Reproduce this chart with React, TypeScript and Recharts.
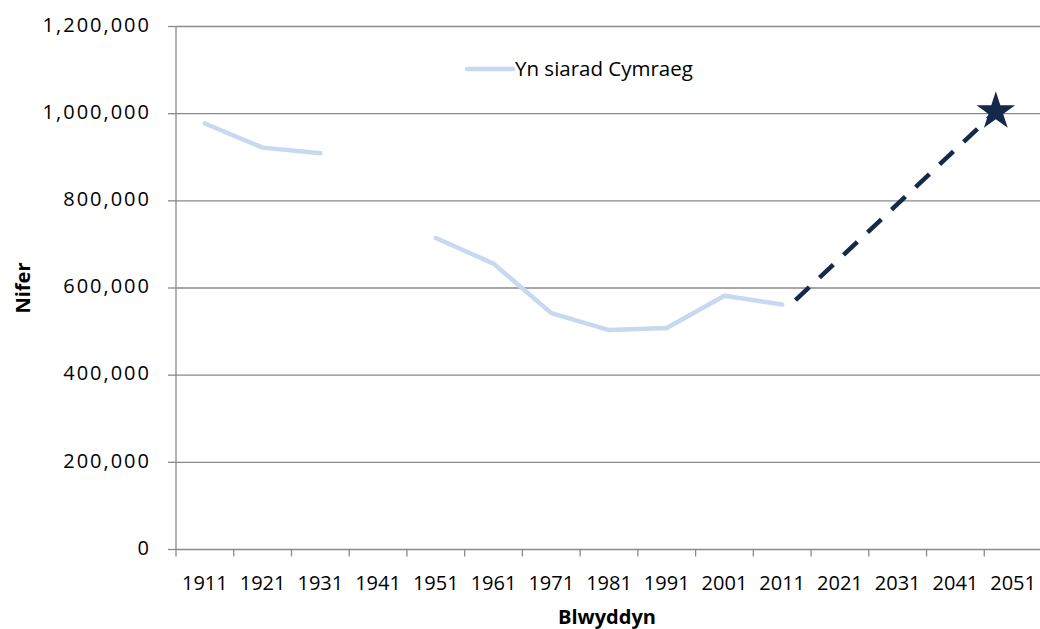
import React from 'react';
import {
  ComposedChart,
  Line,
  Scatter,
  XAxis,
  YAxis,
  Legend,
  Symbols,
  Label,
  ReferenceLine,
} from 'recharts';

// ---- data ----
const yearLabels = [1911, 1921, 1931, 1941, 1951, 1961, 1971, 1981, 1991, 2001, 2011, 2021, 2031, 2041, 2051];
const censusYears = [1911, 1921, 1931, 1941, 1951, 1961, 1971, 1981, 1991, 2001, 2011];
const welshSpeakers: (number | null)[] = [977366, 922092, 909261, null, 714686, 656002, 542425, 503549, 508098, 582368, 562016];
const targetYears = [2013.3, 2048];
const targetValues = [572000, 1005000];
const starYears = [2048];
const starValues = [1005000];
const yTicks = [0, 200000, 400000, 600000, 800000, 1000000, 1200000];
const seriesName = 'Yn siarad Cymraeg';
const xTitle = 'Blwyddyn';
const yTitle = 'Nifer';

// category boundaries (tick marks sit between the year categories)
const xBoundaries = [...yearLabels.map((y) => y - 5), yearLabels[yearLabels.length - 1] + 5];

const censusData = censusYears.map((year, i) => ({ year, speakers: welshSpeakers[i] }));
const targetData = targetYears.map((year, i) => ({ year, target: targetValues[i] }));
const starData = starYears.map((year, i) => ({ year, target: starValues[i] }));

// ---- layout / style ----
const FONT = '"Open Sans", "Noto Sans", sans-serif';
const W = 1040;
const H = 629;
const MARGIN = { top: 26.5, right: -2, bottom: 2, left: 0 };
const Y_AXIS_W = 176;
const X_AXIS_H = 77.5;
const PLOT_W = W - MARGIN.left - MARGIN.right - Y_AXIS_W;
const HALF_BAND = PLOT_W / yearLabels.length / 2;
const GRID = '#8a8a8a';
const LIGHT = '#c6d9f1';
const NAVY = '#15294a';

const XTick = (props: any) => {
  const { x, y, payload } = props;
  const v = payload.value as number;
  if (v >= xBoundaries[xBoundaries.length - 1]) return null;
  return (
    <text x={x + HALF_BAND} y={y} dy="0.71em" textAnchor="middle" fontFamily={FONT} fontSize={20} fill="#000">
      {v + 5}
    </text>
  );
};

const YTick = (props: any) => {
  const { x, y, payload } = props;
  return (
    <text x={x + 2} y={y} dy={5.2} textAnchor="end" fontFamily={FONT} fontSize={20} letterSpacing={2} fill="#000">
      {Number(payload.value).toLocaleString('en-US')}
    </text>
  );
};

const XTitle = (props: any) => {
  const { viewBox } = props;
  return (
    <text x={viewBox.x + viewBox.width / 2 - 2} y={viewBox.y + viewBox.height - 3} textAnchor="middle" fontFamily={FONT} fontWeight="bold" fontSize={20} fill="#000">
      {xTitle}
    </text>
  );
};

const YTitle = (props: any) => {
  const { viewBox } = props;
  const cx = viewBox.x + 30;
  const cy = viewBox.y + viewBox.height / 2;
  return (
    <text x={cx} y={cy} transform={`rotate(-90, ${cx}, ${cy})`} textAnchor="middle" fontFamily={FONT} fontWeight="bold" fontSize={20} fill="#000">
      {yTitle}
    </text>
  );
};

const StarShape = (props: any) => <Symbols cx={props.cx} cy={props.cy} type="star" size={460} fill={NAVY} />;

const LegendContent = () => (
  <svg width={260} height={30} style={{ display: 'block', overflow: 'visible' }}>
    <line x1={1} y1={14} x2={47} y2={14} stroke={LIGHT} strokeWidth={4.5} strokeLinecap="round" />
    <text x={49} y={20.5} fontFamily={FONT} fontSize={20.5} fill="#000">{seriesName}</text>
  </svg>
);

export default function App() {
  return (
    <div style={{ position: 'fixed', left: 0, top: 0, width: 1040, height: 629, overflow: 'hidden', background: '#fff' }}>
      <ComposedChart width={W} height={H} data={censusData} margin={MARGIN}>
        <XAxis
          dataKey="year"
          type="number"
          domain={[xBoundaries[0], xBoundaries[xBoundaries.length - 1]]}
          ticks={xBoundaries}
          interval={0}
          tick={<XTick />}
          tickSize={7}
          tickMargin={19}
          height={X_AXIS_H}
          stroke={GRID}
          tickLine={{ stroke: GRID, strokeWidth: 1.3 }}
          axisLine={false}
        >
          <Label content={<XTitle />} />
        </XAxis>
        <YAxis
          type="number"
          domain={[0, 1200000]}
          ticks={yTicks}
          interval={0}
          tick={<YTick />}
          tickSize={8}
          tickMargin={19}
          width={Y_AXIS_W}
          stroke={GRID}
          tickLine={{ stroke: GRID, strokeWidth: 1.3 }}
          axisLine={{ stroke: GRID, strokeWidth: 1.3 }}
        >
          <Label content={<YTitle />} />
        </YAxis>
        {yTicks.map((v) => (
          <ReferenceLine key={v} y={v} stroke={GRID} strokeWidth={1.3} />
        ))}
        <Legend
          layout="vertical"
          verticalAlign="middle"
          align="center"
          content={<LegendContent />}
          wrapperStyle={{ left: 466, top: 55, width: 260, height: 30, position: 'absolute' }}
        />
        <Line
          name={seriesName}
          dataKey="speakers"
          stroke={LIGHT}
          strokeWidth={4.5}
          strokeLinecap="round"
          strokeLinejoin="round"
          dot={false}
          activeDot={false}
          connectNulls={false}
          isAnimationActive={false}
          legendType="line"
        />
        <Line
          data={targetData}
          dataKey="target"
          stroke={NAVY}
          strokeWidth={4.5}
          strokeDasharray="19 14"
          dot={false}
          activeDot={false}
          isAnimationActive={false}
          legendType="none"
        />
        <Scatter data={starData} dataKey="target" shape={<StarShape />} isAnimationActive={false} legendType="none" />
      </ComposedChart>
    </div>
  );
}
